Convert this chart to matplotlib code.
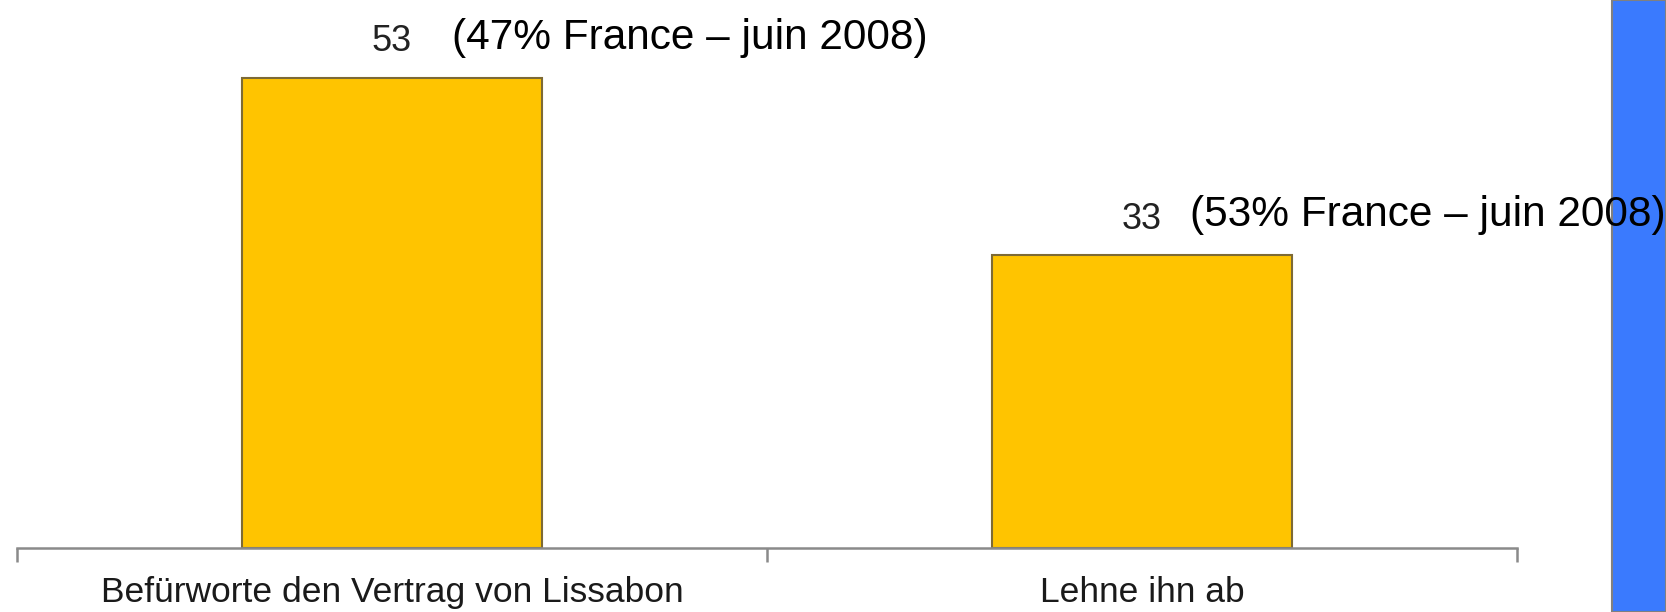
import matplotlib.pyplot as plt
from matplotlib.patches import Rectangle
import numpy as np

categories = ["Befürworte den Vertrag von Lissabon", "Lehne ihn ab"]
values = [53, 33]
notes = ["(47% France – juin 2008)", "(53% France – juin 2008)"]

plt.rcParams['font.family'] = ["Liberation Sans", "DejaVu Sans"]

fig = plt.figure(figsize=(16.66, 6.12), dpi=100)
ax = fig.add_axes([17 / 1666, 64 / 612, 1500 / 1666, 548 / 612])

x = np.arange(len(categories))
ax.bar(x, values, width=0.4, color="#ffc400", edgecolor="#7d6a35", linewidth=1.5, zorder=2)
ax.set_xlim(-0.5, 1.5)
ax.set_ylim(0, 548 / 8.87)

# value labels and the French comparison notes
note_dx = [60, 48]
for xi, v, n, dx in zip(x, values, notes, note_dx):
    ax.annotate(str(v), (xi, v), xytext=(0, 36), textcoords="offset pixels",
                ha="center", va="center", fontsize=26, color="#222222")
    ax.annotate(n, (xi, v), xytext=(dx, 40), textcoords="offset pixels",
                ha="left", va="center", fontsize=30.5, color="black",
                annotation_clip=False, zorder=5)

for s in ["top", "right", "left"]:
    ax.spines[s].set_visible(False)
ax.spines["bottom"].set_color("#8a8a8a")
ax.spines["bottom"].set_linewidth(1.8)
ax.set_yticks([])

ax.set_xticks([-0.5, 0.5, 1.5])
ax.set_xticklabels([])
ax.tick_params(axis="x", which="major", length=10, width=1.8, color="#8a8a8a")
ax.set_xticks(x, minor=True)
ax.set_xticklabels(categories, minor=True, fontsize=25.5, color="#1a1a1a")
ax.tick_params(axis="x", which="minor", length=0, pad=20)

# blue band on the right edge
fig.patches.append(Rectangle((1612 / 1666, 0), 54 / 1666, 1, transform=fig.transFigure,
                             facecolor="#3a7afe", edgecolor="#808080", linewidth=1.5, zorder=-1))

fig.savefig("out.png", dpi=100)
